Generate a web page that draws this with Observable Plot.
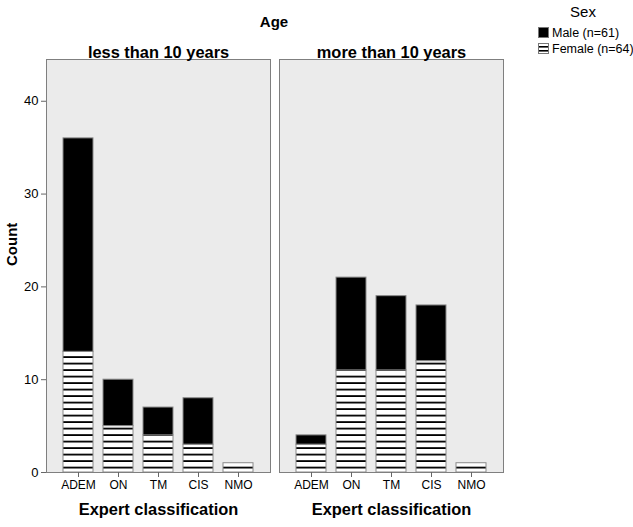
<!DOCTYPE html>
<html><head><meta charset="utf-8">
<script src="https://cdn.jsdelivr.net/npm/d3@7"></script>
<script src="https://cdn.jsdelivr.net/npm/@observablehq/plot@0.6"></script>
<style>
body{margin:0;background:#fff;}
#wrap{position:relative;width:633px;height:527px;font-family:"Liberation Sans",Arial,sans-serif;color:#000;}
#chart{position:absolute;left:0;top:0;}
#title{position:absolute;left:224px;width:100px;top:13px;text-align:center;font-weight:bold;font-size:15px;}
#legend{position:absolute;left:537px;top:0;width:96px;font-size:12.5px;}
#legend .head{position:absolute;left:0;width:92px;top:3px;text-align:center;font-size:15px;}
#legend .row{position:absolute;left:1px;height:12px;line-height:12px;white-space:nowrap;}
#legend svg{vertical-align:top;margin-right:3px;}
</style></head><body>
<div id="wrap"><div id="chart"></div><div id="title">Age</div>
<div id="legend"><div class="head">Sex</div>
<div class="row" style="top:27px"><svg width="11" height="11"><rect x="0.5" y="0.5" width="10" height="10" fill="#000" stroke="#777"/></svg>Male (n=61)</div>
<div class="row" style="top:43px"><svg width="11" height="11"><rect x="0.5" y="0.5" width="10" height="10" fill="#fff" stroke="#777"/><rect x="1" y="3" width="9" height="1.6" fill="#000"/><rect x="1" y="7" width="9" height="1.6" fill="#000"/></svg>Female (n=64)</div>
</div></div>
<script>
const categories = ["ADEM", "ON", "TM", "CIS", "NMO"];
const ageGroups = ["less than 10 years", "more than 10 years"];
const sexes = ["Female", "Male"];
const femaleUnder10 = [13, 5, 4, 3, 1];
const maleUnder10 = [23, 5, 3, 5, 0];
const femaleOver10 = [3, 11, 11, 12, 1];
const maleOver10 = [1, 10, 8, 6, 0];
const yTicks = [0, 10, 20, 30, 40];

const rows = [];
ageGroups.forEach((age, ai) => {
  const f = ai === 0 ? femaleUnder10 : femaleOver10;
  const m = ai === 0 ? maleUnder10 : maleOver10;
  categories.forEach((c, i) => {
    rows.push({age, cls: c, sex: "Female", count: f[i]});
    rows.push({age, cls: c, sex: "Male", count: m[i]});
  });
});

const chart = Plot.plot({
  width: 633, height: 527,
  marginLeft: 45, marginRight: 130, marginTop: 59, marginBottom: 55,
  style: {fontFamily: "Liberation Sans, Arial, sans-serif", background: "transparent", color: "#000"},
  fx: {domain: ageGroups, paddingInner: 0.04, paddingOuter: 0, label: null},
  x: {domain: categories, paddingInner: 0.26, paddingOuter: 0.4, label: null},
  y: {domain: [0, 44.5], label: null},
  color: {domain: sexes, range: ["url(#stripes)", "#000"]},
  marks: [
    Plot.frame({fill: "#ebebeb", stroke: "none"}),
    Plot.barY(rows, {fx: "age", x: "cls", y: "count", fill: "sex", stroke: "#8a8a8a", strokeWidth: 1}),
    Plot.frame({stroke: "#7f7f7f"}),
    Plot.axisFx({anchor: "top", tickSize: 0, tickPadding: 2, fontSize: 16.4, fontWeight: "bold", label: null}),
    Plot.axisX({tickSize: 5, tickPadding: 3, fontSize: 12, label: null, stroke: "#666"}),
    Plot.axisY({ticks: yTicks, tickSize: 5, tickPadding: 3, fontSize: 13, label: null, stroke: "#666"}),
    Plot.text(["Expert classification"], {text: d => d, frameAnchor: "bottom", dy: 42, fontSize: 16.4, fontWeight: "bold"}),
    Plot.text([{fx: ageGroups[0]}], {fx: "fx", frameAnchor: "left", dx: -34, rotate: -90, text: () => "Count", fontSize: 15, fontWeight: "bold"})
  ]
});
d3.select(chart).insert("defs", ":first-child").html(
  '<pattern id="stripes" patternUnits="userSpaceOnUse" x="0" y="0.5" width="10" height="6.5">' +
  '<rect width="10" height="6.5" fill="#fff"/><rect y="4.7" width="10" height="1.8" fill="#000"/></pattern>');
document.getElementById("chart").appendChild(chart);
</script>
</body></html>
